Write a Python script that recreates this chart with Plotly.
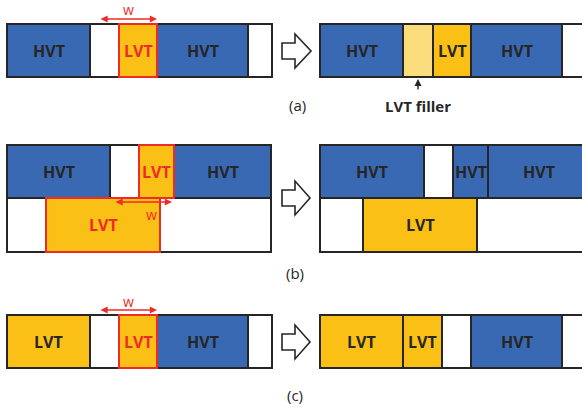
import plotly.graph_objects as go

# ---------------- data (diagram geometry in image units) ----------------
# each row: (y_top, y_bottom, x_left, x_right, cells)
# cell: (x_start, x_end, kind, label)   kind: HVT, LVT, FILL, EMPTY ; "*" marks highlighted (red) cell
row_a_left = (24, 77, 7, 272, [(7, 90, "HVT", "HVT"), (90, 119, "EMPTY", ""), (119, 157, "LVT*", "LVT"),
                              (157, 248, "HVT", "HVT"), (248, 272, "EMPTY", "")])
row_a_right = (24, 77, 320, 590, [(320, 403, "HVT", "HVT"), (403, 433, "FILL", ""), (433, 471, "LVT", "LVT"),
                                 (471, 562, "HVT", "HVT"), (562, 590, "EMPTY", "")])
row_b_left_top = (145, 198, 7, 271, [(7, 110, "HVT", "HVT"), (110, 139, "EMPTY", ""), (139, 174, "LVT*", "LVT"),
                                    (174, 271, "HVT", "HVT")])
row_b_left_bot = (198, 252, 7, 271, [(7, 46, "EMPTY", ""), (46, 160, "LVT*", "LVT"), (160, 271, "EMPTY", "")])
row_b_right_top = (145, 198, 320, 590, [(320, 424, "HVT", "HVT"), (424, 453, "EMPTY", ""), (453, 488, "HVT", "HVT"),
                                       (488, 590, "HVT", "HVT")])
row_b_right_bot = (198, 252, 320, 590, [(320, 363, "EMPTY", ""), (363, 477, "LVT", "LVT"), (477, 590, "EMPTY", "")])
row_c_left = (315, 368, 7, 272, [(7, 90, "LVT", "LVT"), (90, 119, "EMPTY", ""), (119, 157, "LVT*", "LVT"),
                                (157, 248, "HVT", "HVT"), (248, 272, "EMPTY", "")])
row_c_right = (315, 368, 320, 590, [(320, 403, "LVT", "LVT"), (403, 442, "LVT", "LVT"), (442, 471, "EMPTY", ""),
                                   (471, 562, "HVT", "HVT"), (562, 590, "EMPTY", "")])
rows = [row_a_left, row_a_right, row_b_left_top, row_b_left_bot, row_b_right_top, row_b_right_bot,
        row_c_left, row_c_right]

# width arrows "w": (x_start, x_end, y, label_x, label_y)
w_arrows = [(99, 157, 19, 128, 9), (114, 172, 202, 151, 214), (99, 157, 310, 128, 301)]
# hollow transition arrows: (x_start, x_head, x_tip, y_center, half_shaft, half_head)
big_arrows = [(282, 295, 311, 51, 8, 17), (282, 295, 310, 198, 8, 17), (282, 295, 310, 342, 8, 17)]
# panel captions
captions = [("(a)", 297, 105), ("(b)", 295, 273), ("(c)", 295, 395)]

COL = {"HVT": "#3A69B3", "LVT": "#FBC015", "FILL": "#FBDD7D", "EMPTY": "#FFFFFF"}
RED = "#EE2B27"
DARK = "#262626"
FONT = "Open Sans"

fig = go.Figure()
shapes, annots = [], []

red_cells = []
for (y0, y1, xl, xr, cells) in rows:
    shapes.append(dict(type="rect", x0=xl, x1=xr, y0=y0, y1=y1, fillcolor="white",
                       line=dict(color=DARK, width=2), layer="above"))
    for (a, b, kind, label) in cells:
        hl = kind.endswith("*")
        k = kind.rstrip("*")
        if hl:
            red_cells.append((a, b, y0, y1, k))
        else:
            shapes.append(dict(type="rect", x0=a, x1=b, y0=y0, y1=y1, fillcolor=COL[k],
                               line=dict(color=DARK, width=2), layer="above"))
        if label:
            annots.append(dict(x=(a + b) / 2, y=(y0 + y1) / 2, text="<b>%s</b>" % label, showarrow=False,
                               font=dict(family=FONT, size=16, color=RED if hl else DARK),
                               xanchor="center", yanchor="middle"))
for (a, b, y0, y1, k) in red_cells:
    shapes.append(dict(type="rect", x0=a, x1=b, y0=y0, y1=y1, fillcolor=COL[k],
                       line=dict(color=RED, width=2), layer="above"))

for (xs, xe, y, lx, ly) in w_arrows:
    annots.append(dict(x=xe, y=y, ax=xs, ay=y, xref="x", yref="y", axref="x", ayref="y", text="",
                       showarrow=True, arrowhead=2, arrowside="end+start", arrowsize=0.9, arrowwidth=1.6,
                       arrowcolor=RED, standoff=0, startstandoff=0))
    annots.append(dict(x=lx, y=ly, text="w", showarrow=False,
                       font=dict(family=FONT, size=14, color=RED), xanchor="center", yanchor="middle"))

for (x0, xh, xt, yc, hs, hh) in big_arrows:
    path = ("M %d %d L %d %d L %d %d L %d %d L %d %d L %d %d L %d %d Z" %
            (x0, yc - hs, xh, yc - hs, xh, yc - hh, xt, yc, xh, yc + hh, xh, yc + hs, x0, yc + hs))
    shapes.append(dict(type="path", path=path, fillcolor="white", line=dict(color=DARK, width=1.6),
                       layer="above"))

# up arrow to the LVT filler
annots.append(dict(x=418, y=79, ax=418, ay=91, xref="x", yref="y", axref="x", ayref="y", text="",
                   showarrow=True, arrowhead=2, arrowsize=1, arrowwidth=1.4, arrowcolor=DARK, standoff=0))
annots.append(dict(x=418, y=106, text="<b>LVT filler</b>", showarrow=False,
                   font=dict(family=FONT, size=15, color=DARK), xanchor="center", yanchor="middle"))

for (t, x, y) in captions:
    annots.append(dict(x=x, y=y, text=t, showarrow=False, font=dict(family=FONT, size=15, color=DARK),
                       xanchor="center", yanchor="middle"))

fig.update_layout(
    width=582, height=409, margin=dict(l=0, r=0, t=0, b=0),
    paper_bgcolor="white", plot_bgcolor="white", showlegend=False,
    xaxis=dict(range=[0, 582], visible=False, fixedrange=True),
    yaxis=dict(range=[409, 0], visible=False, fixedrange=True),
    shapes=shapes, annotations=annots,
)
fig.write_html("out.html", config={"displayModeBar": False},
               post_script="document.body.style.margin='0';document.body.style.overflow='hidden';")
